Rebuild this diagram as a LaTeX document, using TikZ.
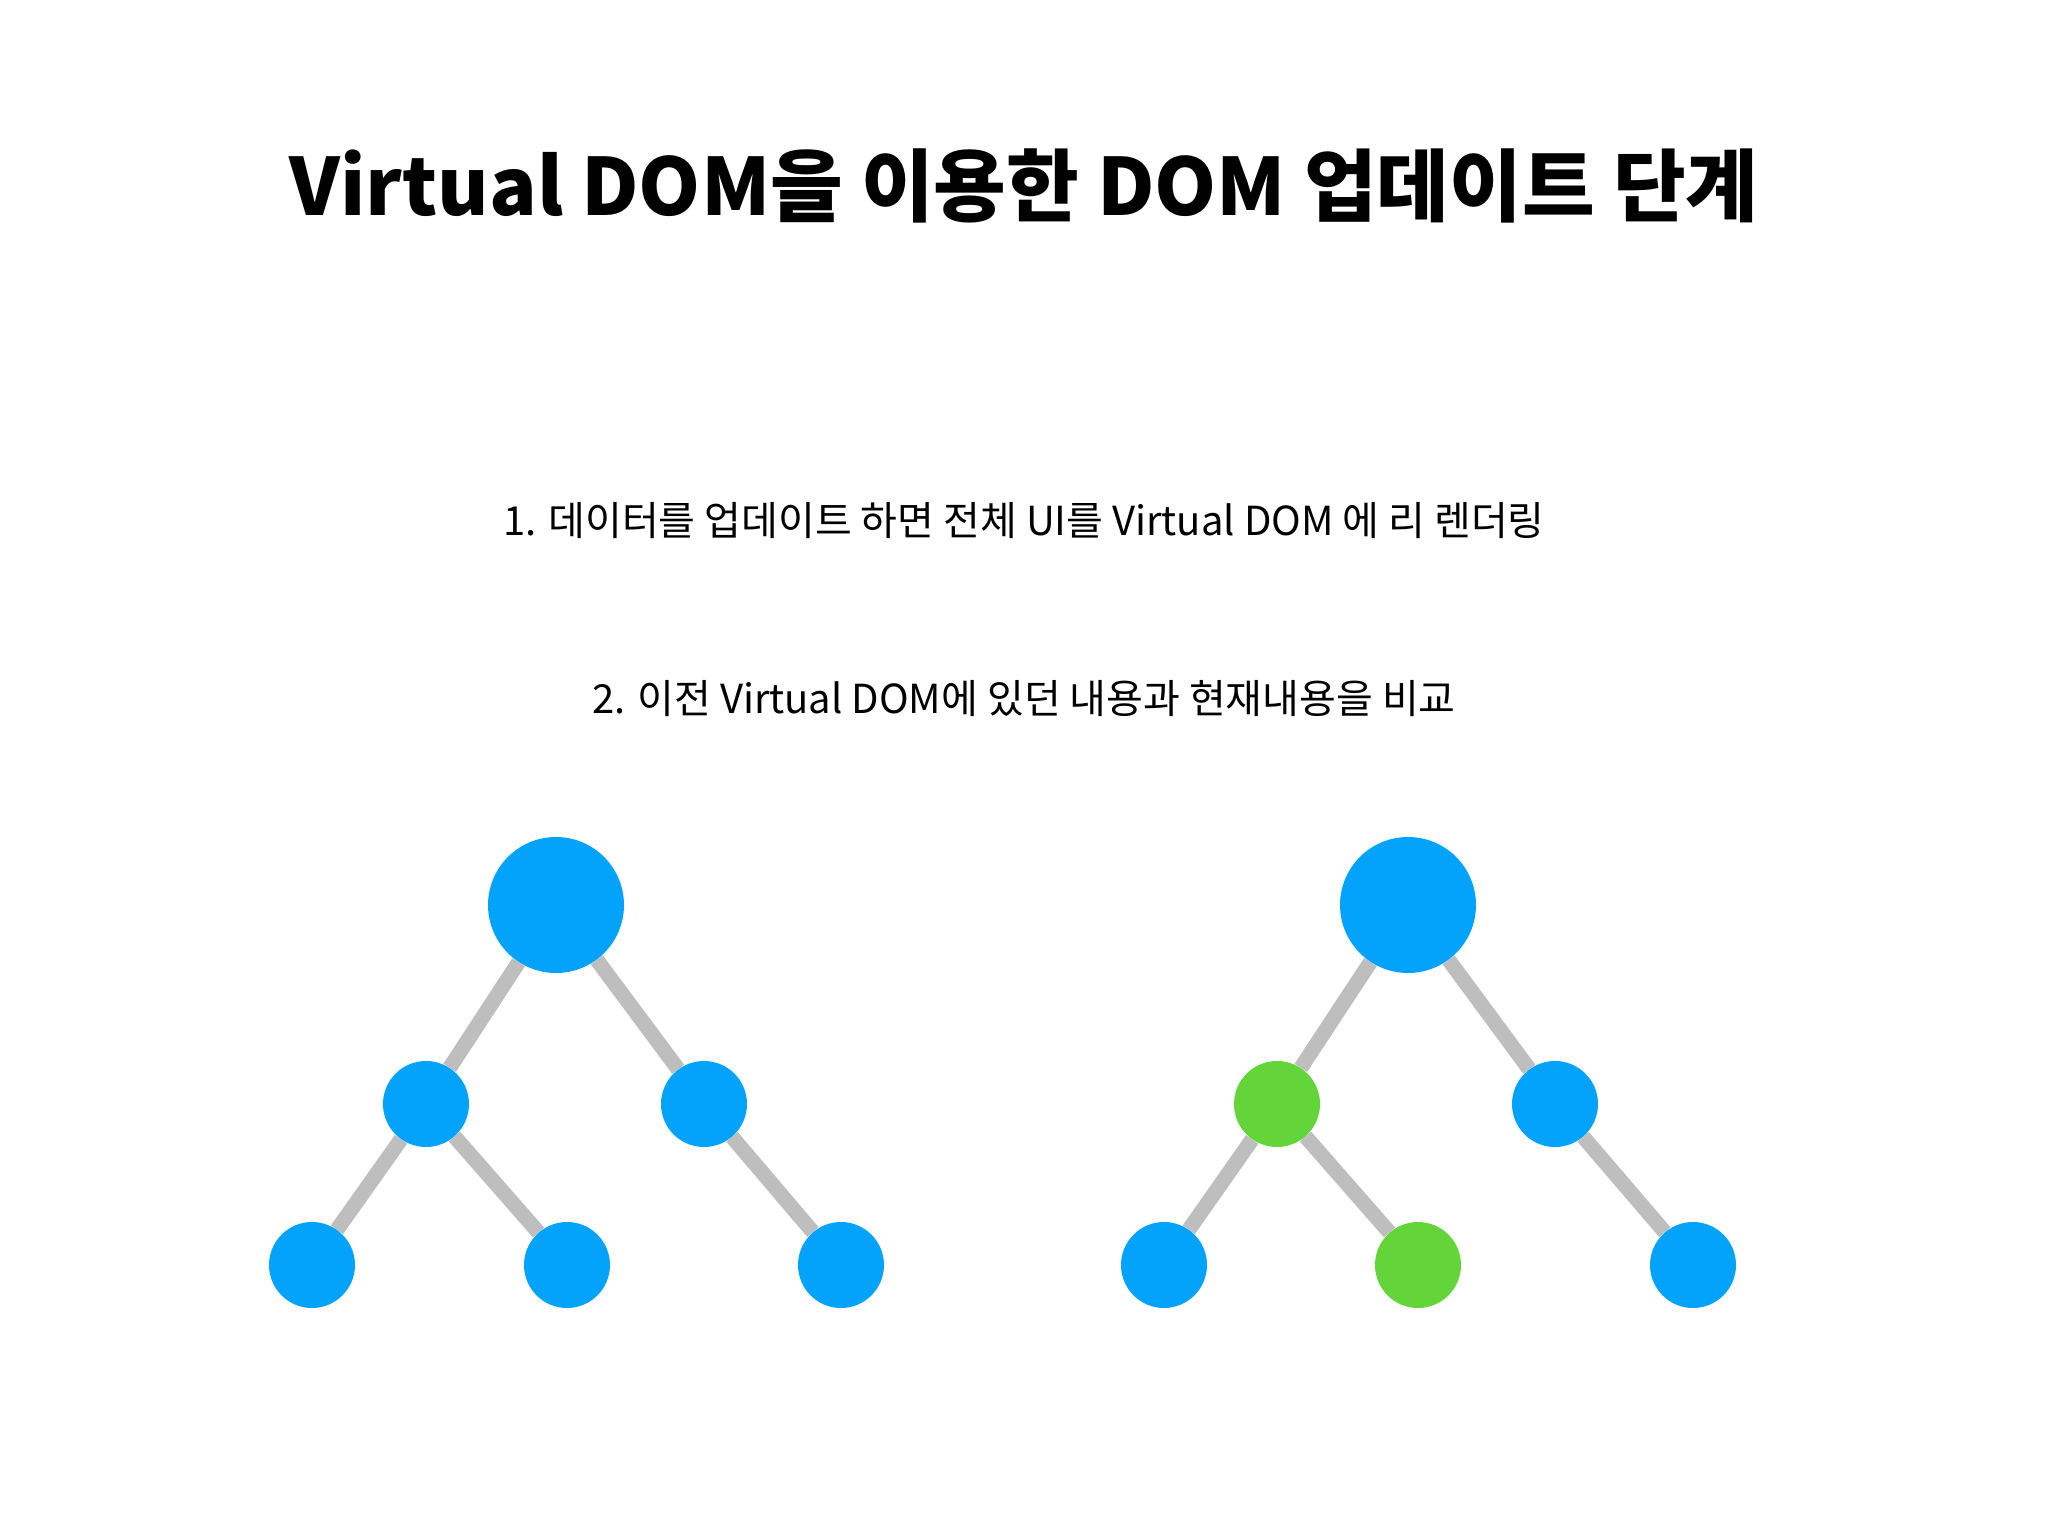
\documentclass[tikz,border=0pt]{standalone}
\usepackage{fontspec}
\setmainfont{Noto Sans CJK KR}
\usetikzlibrary{positioning,backgrounds}
\definecolor{domblue}{HTML}{03A3FC}
\definecolor{domgreen}{HTML}{63D53B}
\definecolor{edgegray}{HTML}{BEBEBE}
\tikzset{>=latex}

\begin{document}
\begin{tikzpicture}[x=1pt,y=-1pt,
    vnode/.style={circle,fill=domblue,inner sep=0pt,minimum size=86pt},
    rootnode/.style={vnode,minimum size=136pt},
    changed/.style={fill=domgreen},
    link/.style={draw=edgegray,line width=15pt},
    steptext/.style={anchor=base,font=\fontsize{40}{48}\selectfont}]
  \useasboundingbox (0,0) rectangle (2048,1536);
  \node[anchor=base] at (1024,215) (title)
    {\fontsize{79}{90}\selectfont\bfseries Virtual DOM을 이용한 DOM 업데이트 단계};
  \node[steptext] at (1024,535) (step1)
    {1. 데이터를 업데이트 하면 전체 UI를 Virtual DOM 에 리 렌더링};
  \node[steptext] at (1024,713) (step2)
    {2. 이전 Virtual DOM에 있던 내용과 현재내용을 비교};

  % previous virtual DOM
  \node[rootnode] at (556,905) (oldroot) {};
  \node[vnode] at (426,1104) (oldleft) {};
  \node[vnode] at (704,1104) (oldright) {};
  \node[vnode] at (312,1265) (oldleafa) {};
  \node[vnode] at (567,1265) (oldleafb) {};
  \node[vnode] at (841,1265) (oldleafc) {};

  % current virtual DOM
  \node[rootnode] at (1408,905) (newroot) {};
  \node[vnode,changed] at (1277,1104) (newleft) {};
  \node[vnode] at (1555,1104) (newright) {};
  \node[vnode] at (1164,1265) (newleafa) {};
  \node[vnode,changed] at (1418,1265) (newleafb) {};
  \node[vnode] at (1693,1265) (newleafc) {};

  \begin{scope}[on background layer]
    \draw[link] (oldroot) -- (oldleft);
    \draw[link] (oldroot) -- (oldright);
    \draw[link] (oldleft) -- (oldleafa);
    \draw[link] (oldleft) -- (oldleafb);
    \draw[link] (oldright) -- (oldleafc);
    \draw[link] (newroot) -- (newleft);
    \draw[link] (newroot) -- (newright);
    \draw[link] (newleft) -- (newleafa);
    \draw[link] (newleft) -- (newleafb);
    \draw[link] (newright) -- (newleafc);
  \end{scope}
\end{tikzpicture}
\end{document}
